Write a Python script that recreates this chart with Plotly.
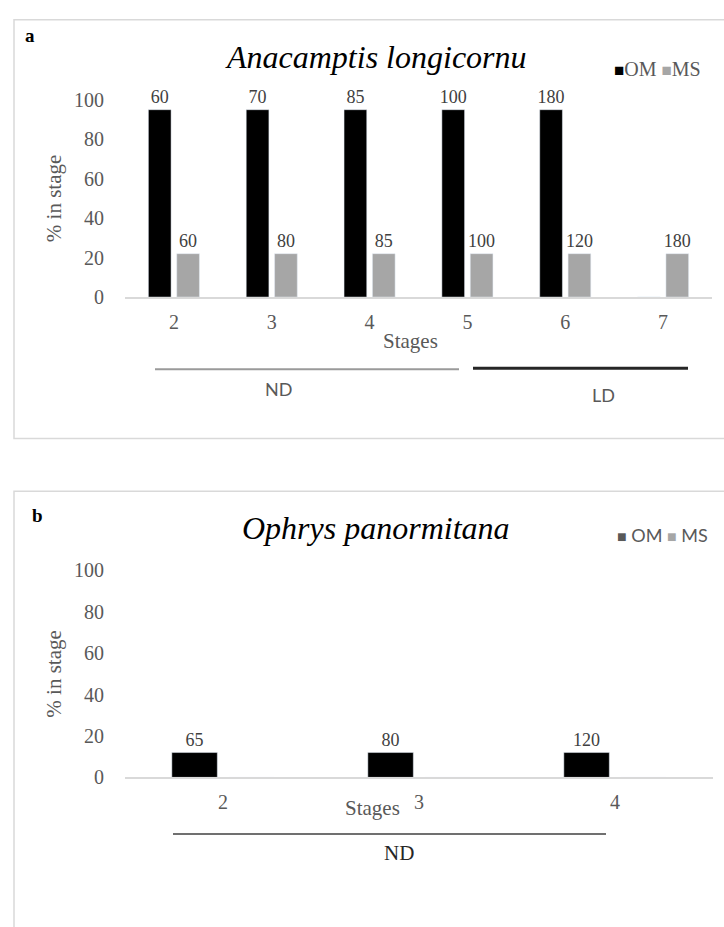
import plotly.graph_objects as go

W, H = 724, 927

# ---- data ----
stages_a = ["2", "3", "4", "5", "6", "7"]
om_a = [95, 95, 95, 95, 95, 0]
ms_a = [22, 22, 22, 22, 22, 22]
om_a_labels = ["60", "70", "85", "100", "180", ""]
ms_a_labels = ["60", "80", "85", "100", "120", "180"]

stages_b = ["2", "3", "4"]
om_b = [12, 12, 12]
ms_b = [0, 0, 0]
om_b_labels = ["65", "80", "120"]
ms_b_labels = ["", "", ""]

y_ticks = [0, 20, 40, 60, 80, 100]

SERIF = "Liberation Serif, Times New Roman, Times, serif"
SANS = "Lato, Liberation Sans, sans-serif"
OM_COLOR = "#000000"
MS_COLOR = "#a6a6a6"
TICK_COLOR = "#595959"
LABEL_COLOR = "#404040"


def px(x):
    return x / W


def py(y):
    return 1 - y / H


fig = go.Figure()

common = dict(textposition="outside", cliponaxis=False, constraintext="none",
              textfont=dict(family=SERIF, size=18, color=LABEL_COLOR),
              showlegend=False)

fig.add_trace(go.Bar(x=stages_a, y=om_a, text=om_a_labels, name="OM",
                     marker=dict(color=OM_COLOR), xaxis="x", yaxis="y", **common))
fig.add_trace(go.Bar(x=stages_a, y=ms_a, text=ms_a_labels, name="MS",
                     marker=dict(color=MS_COLOR), xaxis="x", yaxis="y", **common))
fig.add_trace(go.Bar(x=stages_b, y=om_b, text=om_b_labels, name="OM",
                     marker=dict(color=OM_COLOR), xaxis="x2", yaxis="y2", **common))
fig.add_trace(go.Bar(x=stages_b, y=ms_b, text=ms_b_labels, name="MS",
                     marker=dict(color=MS_COLOR), xaxis="x2", yaxis="y2", **common))

xcommon = dict(type="category", showline=True, linecolor="#d9d9d9", linewidth=2,
               ticks="outside", ticklen=6, tickcolor="rgba(0,0,0,0)",
               tickfont=dict(family=SERIF, size=20, color=TICK_COLOR),
               showgrid=False, zeroline=False, fixedrange=True)
ycommon = dict(range=[0, 100], tickvals=y_ticks, showline=False, showgrid=False,
               zeroline=False, ticks="outside", ticklen=16,
               tickcolor="rgba(0,0,0,0)",
               tickfont=dict(family=SERIF, size=20, color=TICK_COLOR),
               title=dict(text="% in stage", font=dict(family=SERIF, size=21, color=TICK_COLOR),
                          standoff=6),
               fixedrange=True)

fig.update_layout(
    width=W, height=H,
    margin=dict(l=0, r=0, t=0, b=0),
    paper_bgcolor="white", plot_bgcolor="white",
    barmode="group", bargap=0.42, bargroupgap=0.2,
    xaxis=dict(domain=[px(125), px(712)], anchor="y", **xcommon),
    yaxis=dict(domain=[py(293), py(91)], anchor="x", **ycommon),
    xaxis2=dict(domain=[px(125), px(713)], anchor="y2", **xcommon),
    yaxis2=dict(domain=[py(785), py(573)], anchor="x2", **ycommon),
    showlegend=False,
)

ann = []


def add_text(x, y, text, family, size, color="#000000", **kw):
    ann.append(dict(x=px(x), y=py(y), xref="paper", yref="paper", text=text,
                    showarrow=False, xanchor="center", yanchor="middle",
                    font=dict(family=family, size=size, color=color), **kw))


# panel labels
add_text(30, 25, "<b>a</b>", SERIF, 19)
add_text(37, 517, "<b>b</b>", SERIF, 19)
# titles
add_text(376, 47, "<i>Anacamptis longicornu</i>", SERIF, 32)
add_text(376, 530, "<i>Ophrys panormitana</i>", SERIF, 32)
# legends
add_text(657, 59,
         '<span style="color:#000000;font-size:17px">■</span>OM '
         '<span style="color:#a6a6a6;font-size:17px">■</span>MS',
         SERIF, 20, TICK_COLOR)
add_text(662, 537,
         '<span style="color:#595959;font-size:16px">■</span> OM '
         '<span style="color:#a6a6a6;font-size:16px">■</span> MS',
         SANS, 18, TICK_COLOR)
# x titles
add_text(410, 338, "Stages", SERIF, 21, TICK_COLOR)
add_text(372, 816, "Stages", SERIF, 21, TICK_COLOR)
# group labels
add_text(278, 387, "ND", SANS, 18, TICK_COLOR)
add_text(603, 393, "LD", SANS, 18, TICK_COLOR)
add_text(399, 862, "ND", SERIF, 21, "#262626")

fig.update_layout(annotations=ann)

shapes = [
    # panel frames
    dict(type="rect", xref="paper", yref="paper", x0=px(14), x1=1.02, y0=py(438), y1=py(9),
         line=dict(color="#d9d9d9", width=1.5), fillcolor="rgba(0,0,0,0)"),
    dict(type="rect", xref="paper", yref="paper", x0=px(14), x1=1.02, y0=-0.02, y1=py(492),
         line=dict(color="#d9d9d9", width=1.5), fillcolor="rgba(0,0,0,0)"),
    # group brackets
    dict(type="line", xref="paper", yref="paper", x0=px(155), x1=px(459), y0=py(367), y1=py(367),
         line=dict(color="#9a9a9a", width=2)),
    dict(type="line", xref="paper", yref="paper", x0=px(473), x1=px(688), y0=py(366), y1=py(366),
         line=dict(color="#262626", width=3)),
    dict(type="line", xref="paper", yref="paper", x0=px(173), x1=px(606), y0=py(843), y1=py(843),
         line=dict(color="#404040", width=1.5)),
]
fig.update_layout(shapes=shapes)

fig.write_html("out.html", config={"displayModeBar": False},
               post_script="document.body.style.margin='0';document.body.style.overflow='hidden';")
